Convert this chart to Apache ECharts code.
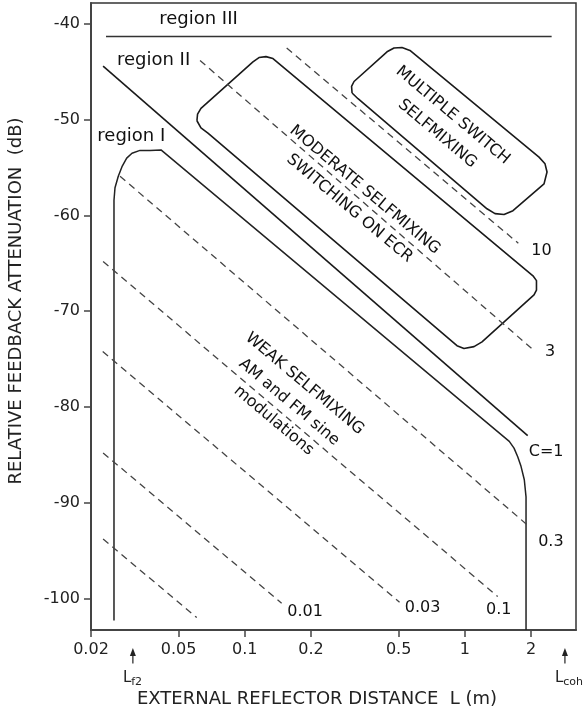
<!DOCTYPE html>
<html>
<head>
<meta charset="utf-8">
<script src="https://cdn.jsdelivr.net/npm/echarts@6/dist/echarts.min.js"></script>
<style>
    html, body { margin: 0; padding: 0; background: #fff; }
    #chart { width: 586px; height: 716px; }
</style>
</head>
<body>
<div id="chart"></div>
<script>
// axis ticks
const xTicks = [0.02, 0.05, 0.1, 0.2, 0.5, 1, 2];
const yTicks = [-100, -90, -80, -70, -60, -50, -40];

// constant C lines (dashed), start / end points in (L [m], dB)
const dashStartL = [0.155, 0.0626, 0.0271, 0.0227, 0.0226, 0.0227, 0.0227];
const dashStartDb = [-42.5, -43.8, -55.9, -64.8, -74.2, -84.8, -93.8];
const dashEndL = [1.75, 2.084, 1.963, 1.41, 0.505, 0.147, 0.0605];
const dashEndDb = [-62.9, -74.2, -92.5, -99.8, -100.4, -100.5, -102.0];

// C = 1 boundary (region II) and region III boundary
const c1L = [0.0227, 1.93];
const c1Db = [-44.4, -83.0];
const region3L = [0.0234, 2.48];
const region3Db = [-41.3, -41.3];

// region I outline
const region1L = [0.02544, 0.02544, 0.02571, 0.02661, 0.02766, 0.02906, 0.03071, 0.0334, 0.03708, 0.0416,
    1.592, 1.673, 1.739, 1.800, 1.863, 1.897, 1.897];
const region1Db = [-102.3, -58.4, -57.1, -55.9, -54.9, -54.0, -53.5, -53.2, -53.2, -53.15,
    -83.6, -84.3, -85.2, -86.2, -87.6, -89.4, -103.3];

// "moderate" box outline
const moderateL = [0.0606, 0.0610, 0.0632, 0.1089, 0.1160, 0.1248, 0.1343, 2.040, 2.116, 2.116, 2.062,
    1.197, 1.101, 0.991, 0.921, 0.0680, 0.0632, 0.0606];
const moderateDb = [-50.1, -49.4, -48.8, -43.95, -43.5, -43.4, -43.6, -66.3, -66.8, -67.8, -68.3,
    -73.2, -73.7, -73.9, -73.6, -51.4, -50.85, -50.1];

// "multiple switch" box outline
const multipleL = [0.3072, 0.3056, 0.3136, 0.4429, 0.4765, 0.518, 0.563, 2.173, 2.314, 2.363, 2.290,
    1.655, 1.507, 1.371, 1.261, 0.327, 0.3072];
const multipleDb = [-47.2, -46.5, -46.0, -42.9, -42.5, -42.45, -42.75, -53.9, -54.6, -55.45, -56.7,
    -59.5, -59.9, -59.8, -59.3, -47.8, -47.2];

// C value labels
const cText = ["10", "3", "C=1", "0.3", "0.1", "0.03", "0.01"];
const cTextL = [2.23, 2.44, 2.34, 2.46, 1.425, 0.643, 0.188];
const cTextDb = [-63.7, -74.2, -84.7, -94.1, -101.2, -100.95, -101.4];

// region names
const regionText = ["region III", "region II", "region I"];
const regionTextL = [0.0616, 0.0385, 0.0305];
const regionTextDb = [-39.5, -43.8, -51.7];

// regime descriptions
const noteText = ["MULTIPLE SWITCH\nSELFMIXING", "MODERATE SELFMIXING\nSWITCHING ON ECR", "WEAK SELFMIXING\nAM and FM sine\nmodulations"];
const noteL = [0.813, 0.324, 0.159];
const noteDb = [-50.5, -58.3, -79.5];

// characteristic lengths marked under the axis
const markName = ["f2", "coh"];
const markL = [0.031, 2.85];

const FONT = "DejaVu Sans";
const lg = v => Math.log10(v);
const pts = (ls, ds) => ls.map((l, i) => [lg(l), ds[i]]);

const solid = { color: "#1a1a1a", width: 1.6 };
const series = [];

series.push({ type: "line", data: pts(region3L, region3Db), lineStyle: { color: "#333", width: 1.4 } });
series.push({ type: "line", data: pts(c1L, c1Db), lineStyle: solid });
series.push({ type: "line", data: pts(region1L, region1Db), lineStyle: { color: "#222", width: 1.5 } });
series.push({ type: "line", data: pts(moderateL, moderateDb), lineStyle: solid });
series.push({ type: "line", data: pts(multipleL, multipleDb), lineStyle: solid });

dashStartL.forEach((l, i) => {
    series.push({
        type: "line",
        data: [[lg(l), dashStartDb[i]], [lg(dashEndL[i]), dashEndDb[i]]],
        lineStyle: { color: "#444", width: 1.3, type: [7, 5] },
    });
});

series.forEach(s => {
    s.showSymbol = false;
    s.symbol = "none";
    s.silent = true;
    s.animation = false;
});

const textSeries = (texts, ls, ds, label) => ({
    type: "scatter",
    symbolSize: 1,
    itemStyle: { color: "transparent", opacity: 1 },
    silent: true,
    animation: false,
    data: texts.map((t, i) => ({ value: [lg(ls[i]), ds[i]], name: t })),
    label: Object.assign({
        show: true,
        position: "inside",
        formatter: p => p.name,
        color: "#111",
        fontFamily: FONT,
    }, label),
});

series.push(textSeries(cText, cTextL, cTextDb, { fontSize: 16 }));
series.push(textSeries(regionText, regionTextL, regionTextDb, { fontSize: 18 }));
series.push(textSeries(noteText, noteL, noteDb, { fontSize: 16, lineHeight: 24, rotate: -40, align: "center" }));

// arrows for L_f2 and L_coh below the axis
markL.forEach((l, i) => {
    series.push({
        type: "line",
        clip: false,
        silent: true,
        animation: false,
        showSymbol: true,
        lineStyle: { color: "#222", width: 1.2 },
        data: [
            {
                value: [lg(l), -106.8],
                symbol: "circle",
                symbolSize: 1,
                itemStyle: { color: "transparent" },
                label: {
                    show: true,
                    position: "bottom",
                    distance: 4,
                    align: "left",
                    offset: [-10, 0],
                    formatter: "{a|L}{b|" + markName[i] + "}",
                    rich: {
                        a: { fontFamily: FONT, fontSize: 15, color: "#222" },
                        b: { fontFamily: FONT, fontSize: 11, color: "#222", padding: [9, 0, 0, 0] },
                    },
                },
            },
            { value: [lg(l), -105.6], symbol: "triangle", symbolSize: [6, 8], itemStyle: { color: "#222" } },
        ],
    });
});

const chart = echarts.init(document.getElementById("chart"));
chart.setOption({
    animation: false,
    grid: {
        left: 91,
        right: 10,
        top: 3,
        bottom: 86,
        containLabel: false,
        outerBoundsMode: "none",
        show: true,
        borderColor: "#333",
        borderWidth: 1.5,
    },
    xAxis: {
        type: "value",
        min: lg(0.02),
        max: lg(3.2),
        axisLine: { onZero: false, lineStyle: { color: "#444", width: 2 } },
        axisTick: { length: 7, lineStyle: { color: "#444", width: 1.5 }, customValues: xTicks.map(lg) },
        axisLabel: {
            customValues: xTicks.map(lg),
            formatter: v => {
                let best = xTicks[0];
                xTicks.forEach(t => { if (Math.abs(lg(t) - v) < Math.abs(lg(best) - v)) best = t; });
                return String(best);
            },
            fontFamily: FONT,
            fontSize: 16,
            color: "#222",
            margin: 12,
        },
        splitLine: { show: false },
    },
    yAxis: {
        type: "value",
        min: -103.3,
        max: -37.8,
        axisLine: { onZero: false, lineStyle: { color: "#444", width: 2 } },
        axisTick: { length: 7, lineStyle: { color: "#444", width: 1.5 }, customValues: yTicks },
        axisLabel: {
            customValues: yTicks,
            fontFamily: FONT,
            fontSize: 16,
            color: "#222",
            margin: 11,
        },
        splitLine: { show: false },
    },
    graphic: [
        {
            type: "text",
            x: 16,
            y: 301,
            rotation: Math.PI / 2,
            style: {
                text: "RELATIVE FEEDBACK ATTENUATION  (dB)",
                fontFamily: FONT,
                fontSize: 18,
                fill: "#222",
                align: "center",
                verticalAlign: "middle",
            },
        },
        {
            type: "text",
            x: 317,
            y: 699,
            style: {
                text: "EXTERNAL REFLECTOR DISTANCE  L (m)",
                fontFamily: FONT,
                fontSize: 18,
                fill: "#222",
                align: "center",
                verticalAlign: "middle",
            },
        },
    ],
    series: series,
});
</script>
</body>
</html>
